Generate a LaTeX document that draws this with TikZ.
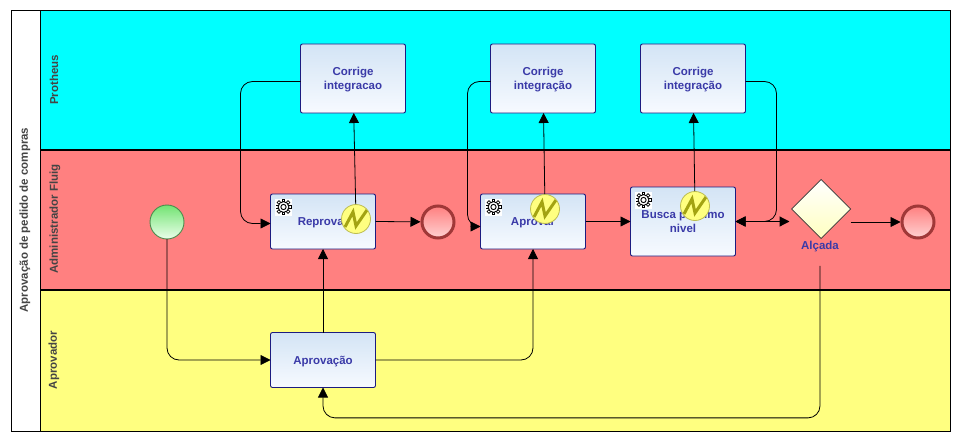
\documentclass[tikz,border=0pt]{standalone}
\usepackage{fontspec}
\setmainfont{Liberation Sans}
\usetikzlibrary{shapes.geometric,arrows.meta}

\definecolor{laneblue}{HTML}{00FFFF}
\definecolor{lanered}{HTML}{FF8080}
\definecolor{laneyellow}{HTML}{FFFF80}
\definecolor{taskline}{HTML}{1C1C80}
\definecolor{tasktext}{HTML}{3A3AA8}
\definecolor{lanetext}{HTML}{444444}
\definecolor{tasktop}{HTML}{D3E4F5}
\definecolor{taskbottom}{HTML}{F7FAFF}
\definecolor{boltline}{HTML}{A3A312}
\definecolor{boltfill}{HTML}{FFFF80}
\definecolor{boltedge}{HTML}{BDBD50}
\definecolor{endline}{HTML}{A03838}

\tikzstyle{lanebox} = [rectangle, draw = black, line width=1pt, inner sep=0pt, outer sep=0pt]
\tikzstyle{lanelabel} = [rotate=90, text=lanetext, font=\fontsize{11.5}{13}\selectfont\bfseries]
\tikzstyle{taskbox} = [rectangle, rounded corners=2pt, minimum width=105pt, align=center, inner sep=0pt, outer sep=0pt, text depth=-2pt, draw = taskline, line width=0.9pt, top color=tasktop, bottom color=taskbottom, text=tasktext, font=\fontsize{11.5}{14}\selectfont\bfseries]
\tikzstyle{startcircle} = [circle, minimum size=34pt, inner sep=0pt, outer sep=0pt, draw = green!35!black!70, line width=0.9pt, top color=green!80!black!55, bottom color=green!8]
\tikzstyle{endcircle} = [circle, minimum size=32pt, inner sep=0pt, outer sep=1.5pt, draw = endline, line width=3pt, top color=red!50, bottom color=red!18]
\tikzstyle{gatewaybox} = [diamond, aspect=1, minimum width=59pt, minimum height=59pt, inner sep=0pt, outer sep=0pt, draw = black!80, line width=0.7pt, top color=white, bottom color=yellow!25]
\tikzstyle{errorevent} = [circle, minimum size=29pt, inner sep=0pt, outer sep=0.5pt, draw = boltedge, line width=0.8pt, fill = boltfill, path picture={
	\draw [boltline, line width=3pt, line join=miter]
		([shift={(-11pt,-8pt)}]path picture bounding box.center) -- ++(8pt,15pt) -- ++(3pt,-14pt) -- ++(11pt,16pt);
}]
\tikzstyle{arrow} = [-{Stealth[length=10pt,width=10pt,inset=0pt]}, line width=0.8pt, black]

\tikzset{
	gearicon/.pic={
		\fill [white] (-8.5pt,-8.5pt) rectangle (8.5pt,8.5pt);
		\foreach \ang in {0,45,...,315}
			\draw [line width=3.4pt] (\ang:4.5pt) -- (\ang:8pt);
		\foreach \ang in {0,45,...,315}
			\draw [white, line width=1.6pt] (\ang:4.5pt) -- (\ang:7.2pt);
		\draw [line width=0.9pt, fill=white] (0,0) circle (5.4pt);
		\draw [line width=0.9pt] (0,0) circle (2.6pt);
	}
}

\begin{document}
\begin{tikzpicture}[x=1pt, y=-1pt, node distance=100pt]
	\useasboundingbox (0,0) rectangle (956,436);

	% pool and lanes
	\node (pool) [lanebox, fill=white, minimum width=939pt, minimum height=420pt] at (480.5,221) {};
	\node (lane1) [lanebox, fill=laneblue, minimum width=910pt, minimum height=139pt] at (495,80.5) {};
	\node (lane2) [lanebox, fill=lanered, minimum width=910pt, minimum height=140pt] at (495,220) {};
	\node (lane3) [lanebox, fill=laneyellow, minimum width=910pt, minimum height=141pt] at (495,360.5) {};
	\draw [line width=2pt] (lane2.north west) -- (lane2.north east);
	\draw [line width=2pt] (lane2.south west) -- (lane2.south east);
	\node (poolname) [lanelabel] at (25,220) {Aprovação de pedido de compras};
	\node (lane1name) [lanelabel] at (54,80) {Protheus};
	\node (lane2name) [lanelabel] at (55,219) {Administrador Fluig};
	\node (lane3name) [lanelabel] at (54,360) {Aprovador};

	% tasks
	\node (fix1) [taskbox, minimum height=69pt] at (353,78.5) {Corrige\\integracao};
	\node (fix2) [taskbox, minimum height=69pt, right of=fix1, xshift=90pt] {Corrige\\integração};
	\node (fix3) [taskbox, minimum height=69pt, right of=fix2, xshift=50pt] {Corrige\\integração};
	\node (reject) [taskbox, minimum height=55pt] at (323,221.5) {Reprovar};
	\node (approve) [taskbox, minimum height=55pt, right of=reject, xshift=110pt] {Aprovar};
	\node (nextlevel) [taskbox, minimum height=69pt, right of=approve, xshift=50pt] {Busca próximo\\nivel};
	\node (review) [taskbox, minimum height=55pt] at (323,360) {Aprovação};

	\pic at ([xshift=13pt,yshift=-13pt]reject.north west) {gearicon};
	\pic at ([xshift=13pt,yshift=-13pt]approve.north west) {gearicon};
	\pic at ([xshift=13pt,yshift=-13pt]nextlevel.north west) {gearicon};

	% events and gateway
	\node (start) [startcircle] at (167,222) {};
	\node (end1) [endcircle] at (438,222) {};
	\node (end2) [endcircle] at (918,222) {};
	\node (gateway) [gatewaybox] at (821,209) {};
	\node (gatename) [text=tasktext, font=\fontsize{11.5}{13}\selectfont\bfseries] at (820,247) {Alçada};
	\node (event1) [errorevent] at (356,219) {};
	\node (event2) [errorevent] at (545,209) {};
	\node (event3) [errorevent] at (695,206) {};

	% connectors
	\draw [arrow, rounded corners=12pt] (start) |- (review);
	\draw [arrow] (review) -- (reject);
	\draw [arrow, rounded corners=12pt] (review.east) -| (approve.south);
	\draw [arrow] (reject.east) -- (end1);
	\draw [arrow] (event1) -- (fix1);
	\draw [arrow] (event2) -- (fix2);
	\draw [arrow] (event3) -- (fix3);
	\draw [arrow, rounded corners=12pt] ([yshift=-3pt]fix1.west) -- ++(-60,0) |- ([yshift=-2pt]reject.west);
	\draw [arrow, rounded corners=12pt] ([yshift=-3pt]fix2.west) -- ++(-23,0) |- ([yshift=-5pt]approve.west);
	\draw [arrow, rounded corners=12pt] ([yshift=-3pt]fix3.east) -- ++(31,0) |- (nextlevel.east);
	\draw [arrow] (approve.east) -- (nextlevel.west);
	\draw [arrow, {Stealth[length=10pt,width=10pt,inset=0pt]}-{Stealth[length=10pt,width=10pt,inset=0pt]}, line width=1.2pt] (nextlevel.east) -- ++(54,0);
	\draw [arrow] ([yshift=-13pt]gateway.east) -- (end2);
	\draw [arrow, rounded corners=12pt] ([yshift=-10pt]gatename.south) -- ++(0,152) -| (review.south);
\end{tikzpicture}
\end{document}
